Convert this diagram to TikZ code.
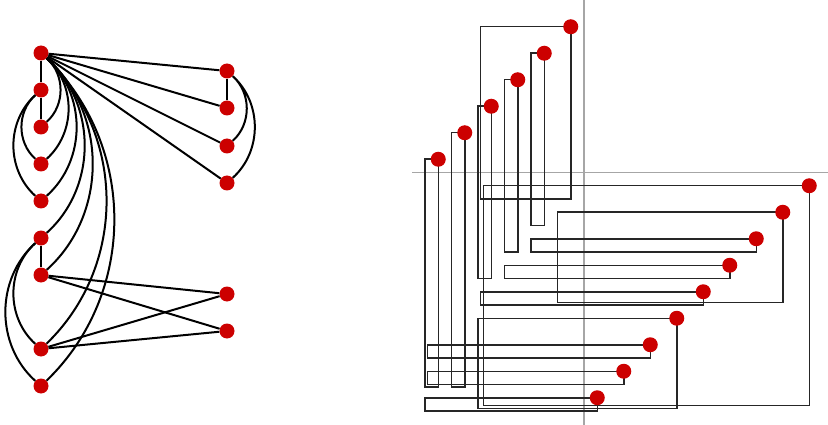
\documentclass[tikz,border=0pt]{standalone}
\usepackage{tikz}
\definecolor{vred}{HTML}{CC0000}

\begin{document}
\begin{tikzpicture}[x=1pt,y=-1pt,
        vertex/.style={circle,fill=vred,inner sep=0pt,minimum size=15pt},
        edge/.style={line width=2pt},
        wire/.style={line width=1.5pt,draw=black!85},
        axis/.style={line width=1.5pt,draw=black!35}]
        \useasboundingbox (0,0) rectangle (828,425);
        % the graph
        \foreach \n/\y in {l1/53, l2/90, l3/127, l4/164, l5/201, l6/238, l7/275, l8/349, l9/386}
            \node[vertex] (\n) at (41,\y) {};
        \foreach \n/\y in {r1/71, r2/108, r3/146, r4/183, r5/294, r6/331}
            \node[vertex] (\n) at (227,\y) {};
        \draw[edge] (l1) -- (l2) -- (l3) (l6) -- (l7) (r1) -- (r2);
        \foreach \t in {r1,r2,r3,r4}
            \draw[edge] (l1) -- (\t);
        \foreach \s/\t in {l7/r5, l7/r6, l8/r5, l8/r6}
            \draw[edge] (\s) -- (\t);
        \foreach \t/\b in {l3/48, l4/48, l5/48, l6/48, l7/48, l8/46, l9/46}
            \draw[edge] (l1) to[bend left=\b] (\t);
        \foreach \s/\t in {l2/l4, l2/l5, l6/l8, l6/l9}
            \draw[edge] (\s) to[bend right=48] (\t);
        \draw[edge] (r1) to[bend left=48] (r3) (r1) to[bend left=48] (r4);
        % the box drawing
        \draw[axis] (584,0) -- (584,425);
        \draw[axis] (412,172.5) -- (828,172.5);
        \begin{scope}[xshift=584pt,yshift=-172.5pt,x=13.25pt,y=13.25pt]
            \def\boxlist{v1/-11/1/-12/-16.2, v2/-9/3/-10/-16.2, v3/-7/5/-8/-8,
                v4/-5/7/-6/-6, v5/-3/9/-4/-4, v6/-1/11/-7.8/-2,
                h1/17/-1/-7.6/-17.6, h2/15/-3/-2/-9.8, h3/13/-5/-4/-6,
                h4/11/-7/-6/-8, h5/9/-9/-7.8/-10, h6/7/-11/-8/-17.8,
                h7/5/-13/-11.8/-14, h8/3/-15/-11.8/-16, h9/1/-17/-12/-18}
            \foreach \n/\x/\y/\xa/\ya in \boxlist
                \draw[wire] (\xa,\ya) rectangle (\x,\y);
            \foreach \n/\x/\y/\xa/\ya in \boxlist
                \node[vertex] (\n) at (\x,\y) {};
        \end{scope}
\end{tikzpicture}
\end{document}
